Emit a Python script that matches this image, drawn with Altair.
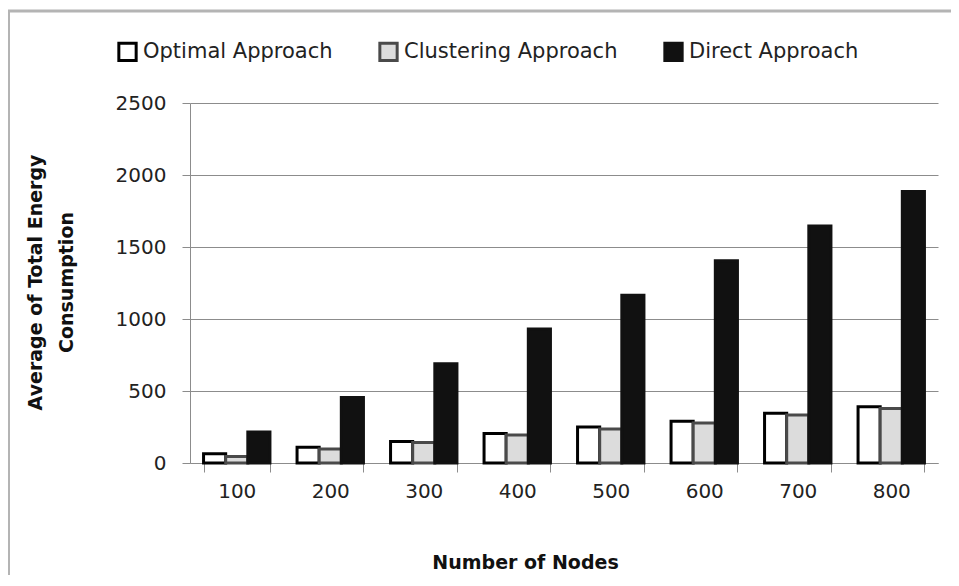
import altair as alt
import pandas as pd

nodes = [100, 200, 300, 400, 500, 600, 700, 800]
series = ["Optimal Approach", "Clustering Approach", "Direct Approach"]
optimal = [65, 110, 150, 205, 250, 290, 345, 390]
clustering = [45, 97, 143, 195, 236, 278, 333, 378]
direct = [215, 455, 690, 930, 1165, 1405, 1645, 1885]
y_ticks = [0, 500, 1000, 1500, 2000, 2500]

rows = []
for name, vals in zip(series, [optimal, clustering, direct]):
    for n, v in zip(nodes, vals):
        rows.append({"nodes": n, "series": name, "value": v})
df = pd.DataFrame(rows)

FONT = "DejaVu Sans"

legend_opts = dict(title=None, orient="none", direction="horizontal",
                   legendX=-73, legendY=-62,
                   symbolType="square", symbolSize=300, symbolStrokeWidth=3.5,
                   labelFont=FONT, labelFontSize=21, labelLimit=500,
                   labelColor="#222222", labelOffset=5,
                   columnPadding=40)

bars = alt.Chart(df).mark_bar().encode(
    x=alt.X("nodes:O", title="Number of Nodes",
            scale=alt.Scale(paddingInner=0.29, paddingOuter=0.145),
            axis=alt.Axis(labelAngle=0, tickBand="extent", tickSize=9,
                          labelPadding=9, labelFontSize=20, labelFont=FONT,
                          labelColor="#222222",
                          domainColor="#8c8c8c", tickColor="#8c8c8c",
                          titleFont=FONT, titleFontSize=19, titleFontWeight="bold",
                          titleColor="#111111", titleX=335, titleY=105,
                          titleBaseline="alphabetic", titleAlign="center")),
    y=alt.Y("value:Q", title=["Average of Total Energy", "Consumption"],
            scale=alt.Scale(domain=[0, 2500], nice=False),
            axis=alt.Axis(values=y_ticks, format="d", tickSize=8, labelPadding=16,
                          labelFontSize=20, labelFont=FONT, labelColor="#222222",
                          domainColor="#8c8c8c", tickColor="#8c8c8c",
                          gridColor="#8c8c8c", grid=True,
                          titleFont=FONT, titleFontSize=19, titleFontWeight="bold",
                          titleColor="#111111", titleAngle=-90,
                          titleX=-149, titleY=179, titleAlign="center",
                          titleBaseline="alphabetic", titleLineHeight=31)),
    xOffset=alt.XOffset("series:N", sort=series,
                        scale=alt.Scale(paddingInner=0, paddingOuter=0)),
    fill=alt.Fill("series:N", sort=series,
                  scale=alt.Scale(domain=series, range=["#ffffff", "#dcdcdc", "#111111"]),
                  legend=alt.Legend(**legend_opts)),
    stroke=alt.Stroke("series:N", sort=series,
                      scale=alt.Scale(domain=series, range=["#000000", "#4a4a4a", "#111111"]),
                      legend=alt.Legend(**legend_opts)),
)

top_border = alt.Chart(alt.Data(values=[{}])).mark_rule(color="#b4b4b4", strokeWidth=3).encode(
    x=alt.value(-182), x2=alt.value(790), y=alt.value(-92)
)
left_border = alt.Chart(alt.Data(values=[{}])).mark_rule(color="#b4b4b4", strokeWidth=2).encode(
    x=alt.value(-181), y=alt.value(-93), y2=alt.value(480)
)

chart = alt.layer(bars, top_border, left_border).properties(
    width=748, height=360,
    autosize=alt.AutoSizeParams(type="none"),
    padding={"left": 182, "top": 95, "right": 13, "bottom": 112},
    background="#ffffff",
).configure_view(stroke=None).configure_bar(strokeWidth=3)

chart.save("out.html", embed_options={"renderer": "svg", "actions": False})
